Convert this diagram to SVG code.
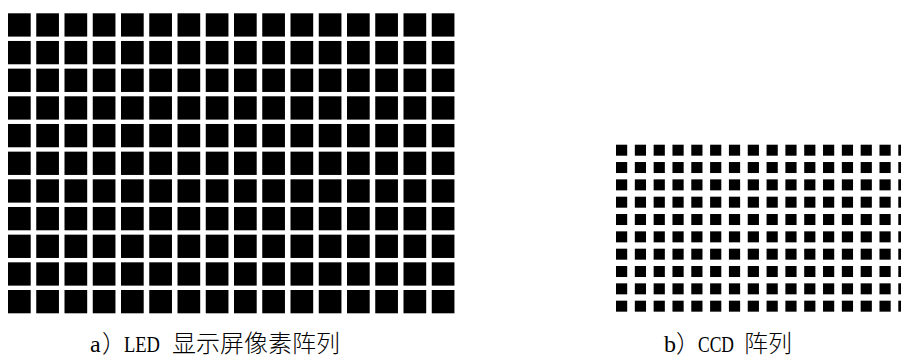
<svg xmlns="http://www.w3.org/2000/svg" xmlns:xlink="http://www.w3.org/1999/xlink" width="901" height="361" viewBox="0 0 901 361">
  <style>
    .lat { font-family: "Liberation Serif", "Times New Roman", serif; font-size: 24px; fill: #000; }
    .cjk { font-family: "Noto Sans CJK SC", "Noto Sans", sans-serif; font-size: 24px; font-weight: 300; fill: #000; }
    .led { fill: #000; width: 22.7px; height: 23.3px; }
    .ccd { fill: #000; width: 11.2px; height: 11px; }
  </style>
  <defs>
    <g id="ledRow">
      <rect class="led" x="8" y="0" width="22.7" height="23.3"/>
      <rect class="led" x="36.25" y="0" width="22.7" height="23.3"/>
      <rect class="led" x="64.5" y="0" width="22.7" height="23.3"/>
      <rect class="led" x="92.75" y="0" width="22.7" height="23.3"/>
      <rect class="led" x="121" y="0" width="22.7" height="23.3"/>
      <rect class="led" x="149.25" y="0" width="22.7" height="23.3"/>
      <rect class="led" x="177.5" y="0" width="22.7" height="23.3"/>
      <rect class="led" x="205.75" y="0" width="22.7" height="23.3"/>
      <rect class="led" x="234" y="0" width="22.7" height="23.3"/>
      <rect class="led" x="262.25" y="0" width="22.7" height="23.3"/>
      <rect class="led" x="290.5" y="0" width="22.7" height="23.3"/>
      <rect class="led" x="318.75" y="0" width="22.7" height="23.3"/>
      <rect class="led" x="347" y="0" width="22.7" height="23.3"/>
      <rect class="led" x="375.25" y="0" width="22.7" height="23.3"/>
      <rect class="led" x="403.5" y="0" width="22.7" height="23.3"/>
      <rect class="led" x="431.75" y="0" width="22.7" height="23.3"/>
    </g>
    <g id="ccdRow">
      <rect class="ccd" x="616" y="0" width="11.2" height="11"/>
      <rect class="ccd" x="634.82" y="0" width="11.2" height="11"/>
      <rect class="ccd" x="653.64" y="0" width="11.2" height="11"/>
      <rect class="ccd" x="672.46" y="0" width="11.2" height="11"/>
      <rect class="ccd" x="691.28" y="0" width="11.2" height="11"/>
      <rect class="ccd" x="710.1" y="0" width="11.2" height="11"/>
      <rect class="ccd" x="728.92" y="0" width="11.2" height="11"/>
      <rect class="ccd" x="747.74" y="0" width="11.2" height="11"/>
      <rect class="ccd" x="766.56" y="0" width="11.2" height="11"/>
      <rect class="ccd" x="785.38" y="0" width="11.2" height="11"/>
      <rect class="ccd" x="804.2" y="0" width="11.2" height="11"/>
      <rect class="ccd" x="823.02" y="0" width="11.2" height="11"/>
      <rect class="ccd" x="841.84" y="0" width="11.2" height="11"/>
      <rect class="ccd" x="860.66" y="0" width="11.2" height="11"/>
      <rect class="ccd" x="879.48" y="0" width="11.2" height="11"/>
      <rect class="ccd" x="898.3" y="0" width="11.2" height="11"/>
    </g>
  </defs>
  <rect width="901" height="361" fill="#fff"/>
  <g id="led-array">
    <use xlink:href="#ledRow" href="#ledRow" y="13.3"/>
    <use xlink:href="#ledRow" href="#ledRow" y="40.97"/>
    <use xlink:href="#ledRow" href="#ledRow" y="68.64"/>
    <use xlink:href="#ledRow" href="#ledRow" y="96.31"/>
    <use xlink:href="#ledRow" href="#ledRow" y="123.98"/>
    <use xlink:href="#ledRow" href="#ledRow" y="151.65"/>
    <use xlink:href="#ledRow" href="#ledRow" y="179.32"/>
    <use xlink:href="#ledRow" href="#ledRow" y="206.99"/>
    <use xlink:href="#ledRow" href="#ledRow" y="234.66"/>
    <use xlink:href="#ledRow" href="#ledRow" y="262.33"/>
    <use xlink:href="#ledRow" href="#ledRow" y="290"/>
  </g>
  <g id="ccd-array">
    <use xlink:href="#ccdRow" href="#ccdRow" y="144.7"/>
    <use xlink:href="#ccdRow" href="#ccdRow" y="162.03"/>
    <use xlink:href="#ccdRow" href="#ccdRow" y="179.36"/>
    <use xlink:href="#ccdRow" href="#ccdRow" y="196.69"/>
    <use xlink:href="#ccdRow" href="#ccdRow" y="214.02"/>
    <use xlink:href="#ccdRow" href="#ccdRow" y="231.35"/>
    <use xlink:href="#ccdRow" href="#ccdRow" y="248.68"/>
    <use xlink:href="#ccdRow" href="#ccdRow" y="266.01"/>
    <use xlink:href="#ccdRow" href="#ccdRow" y="283.34"/>
    <use xlink:href="#ccdRow" href="#ccdRow" y="300.67"/>
  </g>
  <g id="label-a">
    <text y="352"><tspan class="lat" x="90">a</tspan><tspan class="cjk" x="102">）</tspan><tspan class="lat" x="124" textLength="36" lengthAdjust="spacingAndGlyphs">LED</tspan><tspan class="cjk" x="172">显示屏像素阵列</tspan></text>
  </g>
  <g id="label-b">
    <text y="352"><tspan class="lat" x="664">b</tspan><tspan class="cjk" x="676">）</tspan><tspan class="lat" x="698" textLength="36" lengthAdjust="spacingAndGlyphs">CCD</tspan><tspan class="cjk" x="744">阵列</tspan></text>
  </g>
</svg>
